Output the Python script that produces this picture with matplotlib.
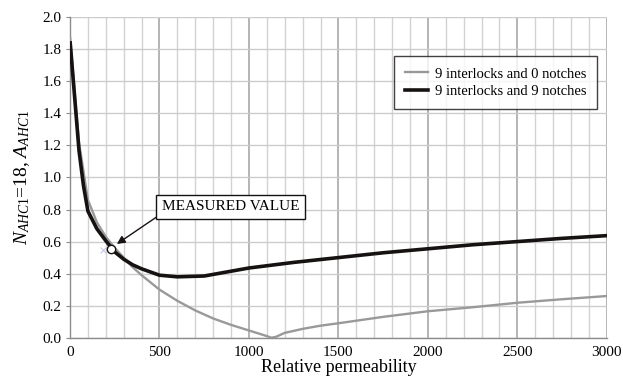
import matplotlib
matplotlib.use("Agg")
import matplotlib.pyplot as plt
from matplotlib.ticker import MultipleLocator

plt.rcParams["font.family"] = "Liberation Serif"
plt.rcParams["mathtext.fontset"] = "custom"
plt.rcParams["mathtext.rm"] = "Liberation Serif"
plt.rcParams["mathtext.it"] = "Liberation Serif:italic"

# relative permeability
mu_0 = [1, 50, 100, 150, 200, 250, 300, 350, 400, 500, 600, 700, 800, 900,
        1000, 1100, 1125, 1150, 1200, 1300, 1400, 1500, 1750, 2000, 2250,
        2500, 2750, 3000]
# 9 interlocks and 0 notches
n0 = [1.87, 1.22, 0.86, 0.72, 0.63, 0.56, 0.50, 0.44, 0.39, 0.30, 0.23,
      0.17, 0.12, 0.08, 0.045, 0.01, 0.0, 0.005, 0.03, 0.055, 0.075, 0.09,
      0.13, 0.165, 0.19, 0.218, 0.24, 0.26]

mu_9 = [1, 50, 75, 100, 150, 200, 250, 300, 350, 400, 500, 600, 750, 1000,
        1250, 1500, 1750, 2000, 2250, 2500, 2750, 3000]
# 9 interlocks and 9 notches
n9 = [1.84, 1.17, 0.95, 0.79, 0.68, 0.605, 0.535, 0.49, 0.455, 0.43, 0.39,
      0.38, 0.385, 0.435, 0.47, 0.50, 0.53, 0.555, 0.58, 0.60, 0.62, 0.637]

measured_x = 230
measured_y = 0.555

fig = plt.figure(figsize=(6.23, 3.76), dpi=100)
ax = fig.add_axes([0.1124, 0.1019, 0.8616, 0.8521])

ax.set_xlim(0, 3000)
ax.set_ylim(0, 2.0)
ax.xaxis.set_major_locator(MultipleLocator(500))
ax.xaxis.set_minor_locator(MultipleLocator(100))
ax.yaxis.set_major_locator(MultipleLocator(0.2))
ax.yaxis.set_major_formatter(plt.FormatStrFormatter("%.1f"))

ax.grid(which="minor", axis="x", color="#d2d2d2", lw=1.0)
ax.grid(which="major", axis="x", color="#a8a8a8", lw=1.2)
ax.grid(which="major", axis="y", color="#cccccc", lw=1.0)
ax.set_axisbelow(True)

for s in ["top", "right"]:
    ax.spines[s].set_visible(False)
for s in ["left", "bottom"]:
    ax.spines[s].set_color("#8c8c8c")
    ax.spines[s].set_linewidth(1.0)

ax.tick_params(axis="y", which="major", length=3, color="#8c8c8c", labelsize=11, pad=3)
ax.tick_params(axis="x", which="major", length=0, labelsize=11, pad=6)
ax.tick_params(axis="x", which="minor", length=0)

ax.plot(mu_0, n0, color="#999999", lw=1.7, label="9 interlocks and 0 notches", zorder=3)
ax.plot(mu_9, n9, color="#161212", lw=2.6, label="9 interlocks and 9 notches", zorder=4)

ax.plot([185], [0.55], marker="x", ms=5, color="#c8c8e6", mew=0.8, zorder=2)
ax.plot([measured_x], [measured_y], marker="o", ms=6, mfc="white", mec="#161212",
        mew=1.0, zorder=5)

ax.annotate("MEASURED VALUE", xy=(262, 0.585), xytext=(897, 0.816),
            fontsize=11, ha="center", va="center",
            bbox=dict(boxstyle="square,pad=0.35", fc="white", ec="#161212", lw=1.0),
            arrowprops=dict(arrowstyle="-|>", color="#161212", lw=1.0,
                            relpos=(0, 0), shrinkA=0, shrinkB=0,
                            mutation_scale=12),
            zorder=6)

leg = ax.legend(loc="upper right", bbox_to_anchor=(0.982, 0.878), fontsize=10.5,
                frameon=True, fancybox=False, borderpad=0.75, handlelength=1.6,
                labelspacing=0.3, handletextpad=0.45, borderaxespad=0)
leg.get_frame().set_edgecolor("#161212")
leg.get_frame().set_linewidth(1.0)

ax.set_xlabel("Relative permeability", fontsize=13, labelpad=0)
ax.set_ylabel(r"$N_{AHC\mathrm{1}}$=18, $A_{AHC\mathrm{1}}$", fontsize=14, labelpad=8)

fig.savefig("out.png", dpi=100)
